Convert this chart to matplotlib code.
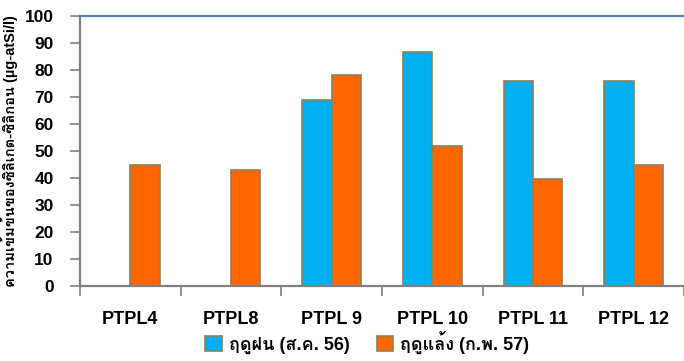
import numpy as np
import matplotlib
matplotlib.use("Agg")
import matplotlib.pyplot as plt
from matplotlib import font_manager
from matplotlib.ft2font import FT2Font
from matplotlib.patches import Patch

# data
stations = ["PTPL4", "PTPL8", "PTPL 9", "PTPL 10", "PTPL 11", "PTPL 12"]
rainy = [np.nan, np.nan, 69, 86.5, 76, 76]      # ฤดูฝน (ส.ค. 56)
dry = [45, 43, 78, 52, 39.5, 45]                # ฤดูแล้ง (ก.พ. 57)
series_names = ["ฤดูฝน (ส.ค. 56)", "ฤดูแล้ง (ก.พ. 57)"]
y_label = "ความเข้มข้นของซิลิเกต-ซิลิกอน (µg-atSi/l)"
y_ticks = list(range(0, 101, 10))


def find_thai_font():
    names = []
    for f in font_manager.fontManager.ttflist:
        try:
            if 0x0E01 in FT2Font(f.fname).get_charmap():
                names.append(f.name)
        except Exception:
            pass
    return names


thai = find_thai_font()
families = ["Liberation Sans"] + thai[:1] + ["DejaVu Sans"]
plt.rcParams["font.family"] = families

BLUE = "#00B0F0"
ORANGE = "#FF6600"
EDGE = "#8C8058"

fig = plt.figure(figsize=(6.84, 3.61), dpi=100)
ax = fig.add_axes([0.117, 0.207, 0.883, 0.749])

x = np.arange(len(stations))
w = 0.29
ax.bar(x - w / 2, rainy, w, color=BLUE, edgecolor=EDGE, linewidth=1.2)
ax.bar(x + w / 2, dry, w, color=ORANGE, edgecolor=EDGE, linewidth=1.2)

ax.set_xlim(-0.5, len(stations) - 0.5)
ax.set_ylim(0, 100)
ax.set_yticks(y_ticks)
ax.set_yticklabels([str(t) for t in y_ticks], fontsize=12.5, fontweight="bold")

# tick marks between groups, labels centred under groups
ax.set_xticks(np.arange(len(stations) + 1) - 0.5)
ax.set_xticklabels([])
ax.set_xticks(x, minor=True)
ax.set_xticklabels(stations, minor=True, fontsize=13, fontweight="bold")
ax.tick_params(axis="x", which="major", length=7, color="#808080", width=1.2)
ax.tick_params(axis="x", which="minor", length=0, pad=18)
ax.tick_params(axis="y", length=7, color="#808080", width=1.2, pad=12)

for side in ("left", "bottom"):
    ax.spines[side].set_color("#808080")
    ax.spines[side].set_linewidth(1.6)
ax.spines["top"].set_color("#4F81BD")
ax.spines["top"].set_linewidth(1.6)
ax.spines["right"].set_visible(False)

ax.set_ylabel(y_label, fontsize=10.5, fontweight="bold", labelpad=5)

handles = [Patch(facecolor=BLUE, edgecolor=EDGE, linewidth=1.2),
           Patch(facecolor=ORANGE, edgecolor=EDGE, linewidth=1.2)]
fig.legend(handles, series_names, loc="lower center", bbox_to_anchor=(0.537, -0.025),
           ncol=2, frameon=False, prop={"size": 13, "weight": "bold"},
           handlelength=0.9, handleheight=0.9, handletextpad=0.4, columnspacing=1.5)

fig.savefig("out.png", dpi=100)
